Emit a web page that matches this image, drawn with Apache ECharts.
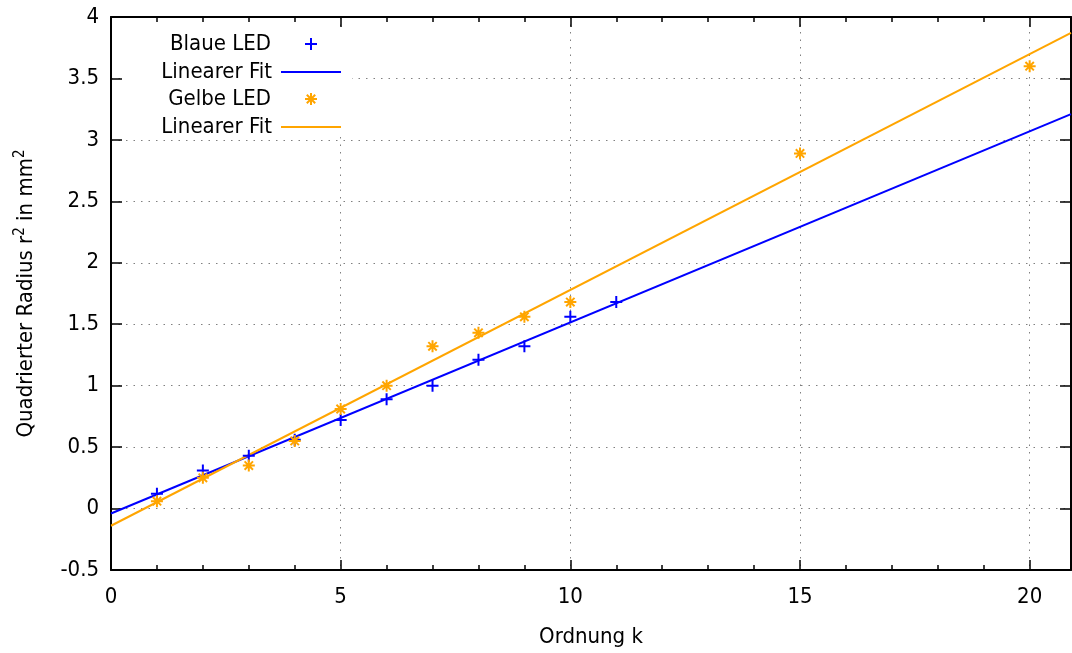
<!DOCTYPE html>
<html>
<head>
<meta charset="utf-8">
<script src="https://cdn.jsdelivr.net/npm/echarts@6/dist/echarts.min.js"></script>
<style>
    html, body { margin: 0; padding: 0; background: #fff; }
    #chart { width: 1072px; height: 653px; }
</style>
</head>
<body>
<div id="chart"></div>
<script>
    const ordnungBlau = [1, 2, 3, 4, 5, 6, 7, 8, 9, 10, 11];
    const radiusBlau = [0.12, 0.31, 0.43, 0.56, 0.72, 0.89, 1.00, 1.21, 1.32, 1.56, 1.68];
    const ordnungGelb = [1, 2, 3, 4, 5, 6, 7, 8, 9, 10, 15, 20];
    const radiusGelb = [0.06, 0.25, 0.35, 0.55, 0.81, 1.00, 1.32, 1.43, 1.56, 1.68, 2.89, 3.60];
    // Fit-Geraden: Endpunkte am Rand des Plots
    const fitX = [0, 20.9];
    const fitBlau = [-0.04, 3.21];
    const fitGelb = [-0.14, 3.87];

    const FONT = '"DejaVu Sans Condensed", "DejaVu Sans", sans-serif';
    const FS = 22;
    const BLAU = '#0000ff';
    const GELB = '#ffa500';
    const PLUS = 'path://M0,5H10M5,0V10';
    const STERN = 'path://M0,5H10M5,0V10M1.5,1.5L8.5,8.5M1.5,8.5L8.5,1.5';

    const pairs = (xs, ys) => xs.map((x, i) => [x, ys[i]]);

    const frame = { show: true, onZero: false, lineStyle: { color: '#000', width: 2 } };
    const grid = { show: true, lineStyle: { color: '#808080', width: 1, type: [1.5, 6] } };

    // eine Legendenzeile (Text rechtsbuendig, Symbol rechts daneben)
    function legendRow(name, top, label, isLine) {
        return {
            data: isLine ? [{ name: name, icon: 'rect' }] : [name],
            right: isLine ? 731 : 754,
            top: top,
            orient: 'horizontal',
            align: 'right',
            itemWidth: isLine ? 60 : 12,
            itemHeight: isLine ? 2 : 12,
            padding: 0,
            selectedMode: false,
            formatter: () => label,
            textStyle: { fontFamily: FONT, fontSize: FS, color: '#000', padding: [0, isLine ? 4 : 29, 0, 0] }
        };
    }

    let option = {
        animation: false,
        backgroundColor: '#fff',
        grid: { left: 111, right: 1, top: 17, bottom: 83, containLabel: false },
        graphic: [{
            type: 'rect', z: 1,
            shape: { x: 123, y: 28, width: 229, height: 109 },
            style: { fill: '#fff' }
        }],
        legend: [
            legendRow('Blaue LED', 33, 'Blaue LED', false),
            legendRow('Fit blau', 61, 'Linearer Fit', true),
            legendRow('Gelbe LED', 88, 'Gelbe LED', false),
            legendRow('Fit gelb', 116, 'Linearer Fit', true)
        ],
        xAxis: [
            {
                type: 'value', position: 'bottom', min: 0, max: 20.9, interval: 5,
                name: 'Ordnung k', nameLocation: 'middle', nameGap: 56,
                nameTextStyle: { fontFamily: FONT, fontSize: FS, color: '#000' },
                axisLine: frame,
                axisTick: { inside: true, length: 10, lineStyle: { color: '#000', width: 1.5 } },
                axisLabel: { margin: 16, showMaxLabel: false, fontFamily: FONT, fontSize: FS, color: '#000' },
                splitLine: grid
            },
            {
                type: 'value', position: 'bottom', min: 0, max: 20.9, interval: 1,
                axisLine: { show: false, onZero: false },
                axisTick: { inside: true, length: 5, lineStyle: { color: '#000', width: 1.5 } },
                axisLabel: { show: false }, splitLine: { show: false }
            },
            {
                type: 'value', position: 'top', min: 0, max: 20.9, interval: 5,
                axisLine: frame,
                axisTick: { inside: true, length: 10, lineStyle: { color: '#000', width: 1.5 } },
                axisLabel: { show: false }, splitLine: { show: false }
            },
            {
                type: 'value', position: 'top', min: 0, max: 20.9, interval: 1,
                axisLine: { show: false, onZero: false },
                axisTick: { inside: true, length: 5, lineStyle: { color: '#000', width: 1.5 } },
                axisLabel: { show: false }, splitLine: { show: false }
            }
        ],
        yAxis: [
            {
                type: 'value', position: 'left', min: -0.5, max: 4, interval: 0.5,
                name: 'Quadrierter Radius r{sup|2} in mm{sup|2}', nameLocation: 'middle', nameGap: 72,
                nameTextStyle: {
                    fontFamily: FONT, fontSize: FS, color: '#000',
                    rich: { sup: { fontFamily: FONT, fontSize: 15, color: '#000', verticalAlign: 'top', lineHeight: 26 } }
                },
                axisLine: frame,
                axisTick: { inside: true, length: 11, lineStyle: { color: '#000', width: 1.5 } },
                axisLabel: { margin: 12, fontFamily: FONT, fontSize: FS, color: '#000' },
                splitLine: grid
            },
            {
                type: 'value', position: 'right', min: -0.5, max: 4, interval: 0.5,
                axisLine: frame,
                axisTick: { inside: true, length: 11, lineStyle: { color: '#000', width: 1.5 } },
                axisLabel: { show: false }, splitLine: { show: false }
            }
        ],
        series: [
            {
                name: 'Blaue LED', type: 'scatter', xAxisIndex: 0, yAxisIndex: 0,
                symbol: PLUS, symbolSize: 12, symbolKeepAspect: true,
                itemStyle: { color: 'transparent', borderColor: BLAU, borderWidth: 2, opacity: 1 },
                data: pairs(ordnungBlau, radiusBlau), z: 3
            },
            {
                name: 'Fit blau', type: 'line', xAxisIndex: 0, yAxisIndex: 0,
                symbol: 'none', showSymbol: false,
                lineStyle: { color: BLAU, width: 2 }, itemStyle: { color: BLAU },
                data: pairs(fitX, fitBlau), z: 2
            },
            {
                name: 'Gelbe LED', type: 'scatter', xAxisIndex: 0, yAxisIndex: 0,
                symbol: STERN, symbolSize: 12, symbolKeepAspect: true,
                itemStyle: { color: 'transparent', borderColor: GELB, borderWidth: 2, opacity: 1 },
                data: pairs(ordnungGelb, radiusGelb), z: 4
            },
            {
                name: 'Fit gelb', type: 'line', xAxisIndex: 0, yAxisIndex: 0,
                symbol: 'none', showSymbol: false,
                lineStyle: { color: GELB, width: 2 }, itemStyle: { color: GELB },
                data: pairs(fitX, fitGelb), z: 2
            }
        ]
    };

    let chart = echarts.init(document.getElementById('chart'), null, { renderer: 'canvas' });
    chart.setOption(option);
</script>
</body>
</html>
